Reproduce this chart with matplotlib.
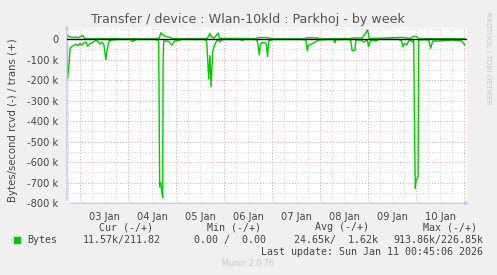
import matplotlib
matplotlib.use("Agg")
import matplotlib.pyplot as plt
import numpy as np

# ---- data (hours since 03 Jan 00:00, values in bytes/s) ----
rcvd_hours = [-6.65, -6.4, -5.6, -5.1, -4.1, -3.1, -2.1, -1.1, -0.1, 0.8, 1.8, 2.8, 3.8, 4.8, 5.8,
              6.8, 7.8, 8.8, 9.8, 10.8, 11.8, 12.8, 13.3, 14.3, 15.8, 17.8, 19.8, 24.8, 26.2, 27.7,
              37.7, 38.7, 39.2, 39.7, 40.2, 40.7, 41.2, 41.4, 41.7, 43.0, 44.2, 45.7, 47.2, 48.7,
              50.6, 62.1, 63.2, 64.2, 64.8, 65.4, 66.2, 67.1, 68.1, 68.9, 69.6, 70.6, 72.1, 79.5,
              81.0, 82.5, 88.0, 88.5, 89.0, 89.5, 90.0, 91.0, 92.5, 93.0, 93.6, 94.2, 95.5, 96.5,
              109.4, 112.4, 112.9, 113.5, 114.1, 115.4, 117.4, 119.4, 124.3, 126.8, 127.3, 127.8,
              134.3, 135.3, 135.9, 137.3, 137.8, 140.3, 141.8, 143.6, 144.1, 145.3, 146.8, 147.8,
              149.3, 159.2, 160.7, 161.2, 162.2, 163.2, 164.2, 165.2, 166.2, 166.7, 167.2, 167.5,
              167.9, 168.9, 169.2, 171.7, 174.2, 175.2, 176.2, 179.2, 186.6, 189.1, 190.6, 191.6,
              192.3]
rcvd_values = [-20e3, -195e3, -120e3, -45e3, -35e3, -30e3, -25e3, -32e3, -22e3, -30e3, -18e3, -15e3,
               -35e3, -22e3, -20e3, -12e3, -8e3, -10e3, -25e3, -15e3, -30e3, -100e3, -60e3, -10e3,
               -5e3, -3e3, -2e3, -2e3, -13e3, -2e3,
               -2e3, -5e3, -10e3, -720e3, -700e3, -740e3, -772e3, -100e3, -10e3, -10e3, -12e3,
               -29e3, -10e3, -8e3,
               -2e3, -2e3, -10e3, -195e3, -80e3, -232e3, -62e3, -30e3, -10e3, -2e3, -15e3, -5e3,
               -2e3, -2e3,
               -6e3, -2e3, -2e3, -10e3, -40e3, -78e3, -25e3, -18e3, -18e3, -25e3, -86e3, -10e3,
               -5e3, -2e3,
               -2e3, -3e3, -10e3, -57e3, -30e3, -25e3, -15e3, -5e3, -2e3, -3e3, -18e3, -3e3,
               -2e3, -8e3, -57e3, -55e3, -5e3, -5e3, -15e3, -5e3, -37e3, -5e3, -8e3, -10e3,
               -2e3, -2e3, -10e3, -37e3, -22e3, -28e3, -10e3, -5e3, -15e3, -5e3, -500e3, -727e3,
               -690e3, -670e3, -5e3, -3e3, -5e3, -45e3, -10e3, -10e3, -5e3, -8e3, -10e3, -20e3,
               -30e3]

trans_hours = [-6.65, -6.2, -5.5, -4.0, -2.0, -1.0, 1.3, 2.0, 4.0, 10.8, 37.0, 39.5, 40.3, 41.5,
               43.5, 45.0, 46.0, 63.5, 64.8, 65.5, 67.0, 68.9, 69.6, 88.0, 89.0, 94.0, 96.0,
               112.0, 113.0, 118.5, 119.5, 135.0, 136.5, 141.0, 143.6, 144.5, 160.5, 165.0,
               166.0, 167.0, 168.5, 169.0, 192.3]
trans_values = [0, 18e3, 10e3, 8e3, 9e3, 6e3, 18e3, 3e3, 1e3, 2e3, 1e3, 5e3, 31e3, 18e3,
                10e3, 8e3, 2e3, 2e3, 28e3, 10e3, 5e3, 29e3, 3e3, 2e3, 7e3, 7e3, 1e3,
                1e3, 6e3, 6e3, 1e3, 2e3, 5e3, 5e3, 44e3, 2e3, 8e3, 3e3,
                10e3, 14e3, 10e3, 2e3, 1e3]

day_labels = ["03 Jan", "04 Jan", "05 Jan", "06 Jan", "07 Jan", "08 Jan", "09 Jan", "10 Jan"]
y_ticks = [0, -100e3, -200e3, -300e3, -400e3, -500e3, -600e3, -700e3, -800e3]
y_labels = ["0", "-100 k", "-200 k", "-300 k", "-400 k", "-500 k", "-600 k", "-700 k", "-800 k"]

title = "Transfer / device : Wlan-10kld : Parkhoj - by week"
ylabel = "Bytes/second rcvd (-) / trans (+)"
legend_head = ["Cur (-/+)", "Min (-/+)", "Avg (-/+)", "Max (-/+)"]
legend_vals = ["11.57k/211.82", "0.00 /  0.00", "24.65k/  1.62k", "913.86k/226.85k"]
last_update = "Last update: Sun Jan 11 00:45:06 2026"
munin_ver = "Munin 2.0.76"

# ---- figure ----
W, H = 497, 275
fig = plt.figure(figsize=(W / 100, H / 100), dpi=100, facecolor="#F0F0F0")
x0, x1 = 67, 467
ytop, ybot = 27.7, 203.3
ax = fig.add_axes([x0 / W, (H - ybot) / H, (x1 - x0) / W, (ybot - ytop) / H])
ax.set_facecolor("white")
ax.set_xlim(-6.65, 193.35)
ax.set_ylim(-800e3, 55e3)
for s in ax.spines.values():
    s.set_visible(False)

# grid
minor_col = "#D0D0D0"
major_col = "#E8A0A0"
for h in np.arange(-6, 194, 6):
    if h % 24 != 0:
        ax.axvline(h, color=minor_col, lw=0.7, ls=(0, (1, 2)), zorder=1)
for h in np.arange(0, 194, 24):
    ax.axvline(h, color=major_col, lw=0.7, ls=(0, (1, 2)), zorder=1)
for v in np.arange(-750e3, 60e3, 100e3):
    ax.axhline(v, color=minor_col, lw=0.7, ls=(0, (1, 2)), zorder=1)
for v in y_ticks:
    ax.axhline(v, color=major_col, lw=0.7, ls=(0, (1, 2)), zorder=1)

ax.set_xticks([12 + 24 * i for i in range(len(day_labels))])
ax.set_xticklabels(day_labels, fontsize=7.1, color="#444444")
ax.set_yticks(y_ticks)
ax.set_yticklabels(y_labels, fontsize=7.1, color="#444444")
ax.tick_params(axis="both", length=0, pad=6)

# data
ax.plot(rcvd_hours, rcvd_values, color="#00CC00", lw=1.0, zorder=3)
ax.plot(trans_hours, trans_values, color="#00CC00", lw=1.0, zorder=3)
ax.axhline(0, color="black", lw=1.0, zorder=4)

# axes with arrows
ax.annotate("", xy=(1.012, 0), xytext=(0, 0), xycoords="axes fraction",
            arrowprops=dict(arrowstyle="-|>", color="#C8C8F4", lw=1, mutation_scale=5),
            annotation_clip=False)
ax.annotate("", xy=(0, 1.03), xytext=(0, 0), xycoords="axes fraction",
            arrowprops=dict(arrowstyle="-|>", color="#C8C8F4", lw=1, mutation_scale=5),
            annotation_clip=False)

# texts
fig.text(248 / W, 1 - 19 / H, title, fontsize=9.1, color="#555555", ha="center", va="center")
fig.text(13 / W, 1 - 120 / H, ylabel, fontsize=7.3, color="#444444", rotation=90,
         ha="center", va="center")
fig.text(488 / W, 1 - 58 / H, "RRDTOOL / TOBI OETIKER", fontsize=5.2, color="#C8C8C8",
         rotation=270, ha="center", va="center")

mono = "DejaVu Sans Mono"
heads_x = [99, 207, 315, 423]
for hx, t in zip(heads_x, legend_head):
    fig.text(hx / W, 1 - 227.3 / H, t, fontsize=7.2, family=mono, color="#444444",
             ha="left", va="center")
vals_right = [161, 266, 378, 483]
for vx, t in zip(vals_right, legend_vals):
    fig.text(vx / W, 1 - 239.7 / H, t, fontsize=7.2, family=mono, color="#444444",
             ha="right", va="center")
fig.patches.append(plt.Rectangle((14 / W, 1 - 243 / H), 6 / W, 6 / H, transform=fig.transFigure,
                                 color="#00CC00", figure=fig))
fig.text(27 / W, 1 - 239.7 / H, "Bytes", fontsize=7.2, family=mono, color="#444444",
         ha="left", va="center")
fig.text(483 / W, 1 - 251.7 / H, last_update, fontsize=7.2, family=mono, color="#444444",
         ha="right", va="center")
fig.text(248 / W, 1 - 264 / H, munin_ver, fontsize=5.8, color="#C8C8C8", ha="center", va="center")

fig.savefig("out.png", dpi=100, facecolor=fig.get_facecolor())
